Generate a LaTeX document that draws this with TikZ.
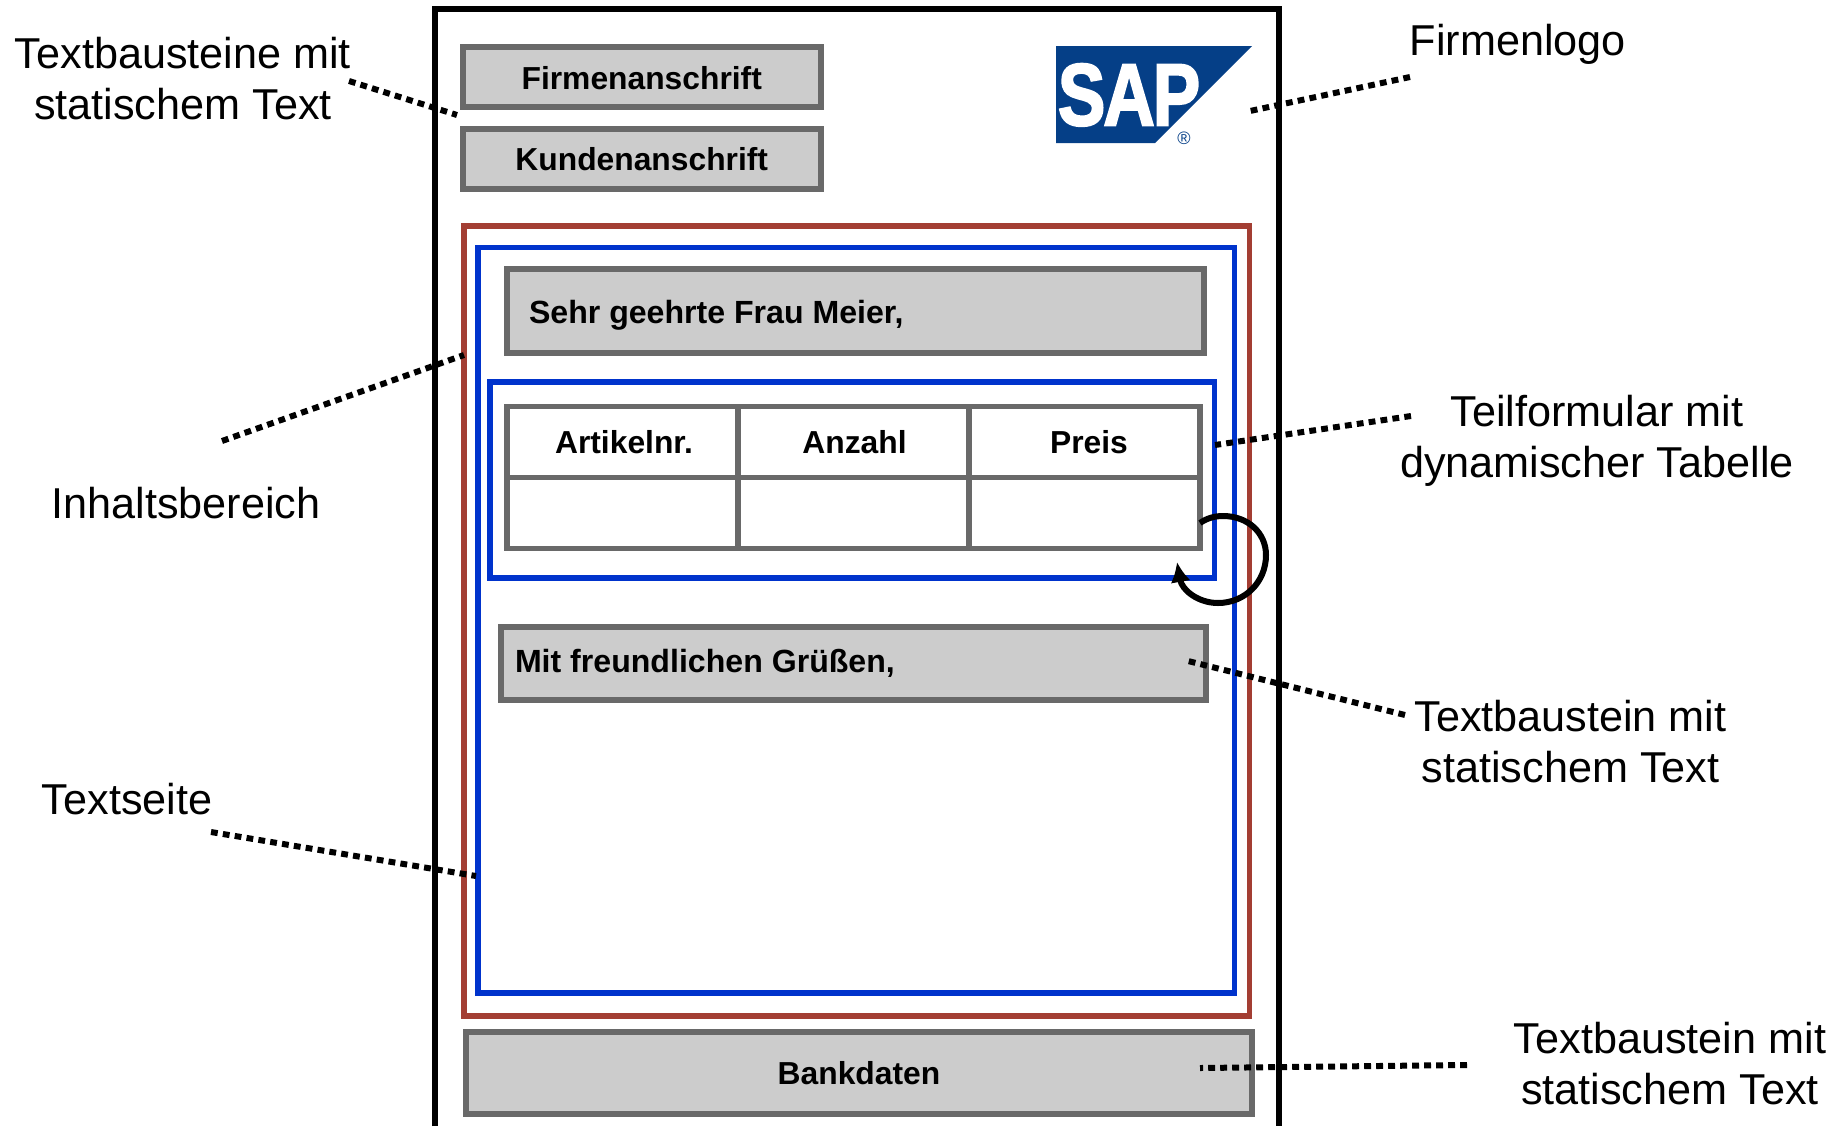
\documentclass[tikz,border=0pt]{standalone}
\usepackage{fontspec}
\setmainfont{Liberation Sans}
\newfontfamily\saplogofont[FakeBold=2.5, LetterSpace=-3]{Liberation Sans Bold}
\usetikzlibrary{calc, arrows.meta}

\definecolor{boxgray}{HTML}{696969}
\definecolor{boxfill}{HTML}{CCCCCC}
\definecolor{areablue}{HTML}{0033CC}
\definecolor{areared}{HTML}{A33E33}
\definecolor{sapblue}{HTML}{053F87}

\tikzset{
    textbox/.style={draw=boxgray, fill=boxfill, line width=3pt, inner sep=0pt,
        font=\fontsize{15.9}{19}\selectfont\bfseries},
    cell/.style={draw=boxgray, fill=white, line width=2.8pt, inner sep=0pt,
        minimum height=35.5pt, font=\fontsize{15.9}{19}\selectfont\bfseries},
    area/.style={line width=2.6pt},
    callout/.style={align=center, inner sep=0pt, font=\fontsize{21.6}{25.4}\selectfont},
    leader/.style={line width=3pt, dash pattern=on 3.4pt off 2.6pt}
}

\begin{document}
\begin{tikzpicture}[x=0.5pt, y=-0.5pt]
    \useasboundingbox (0, 0) rectangle (1848, 1126);

    % Page frame, open at the bottom
    \draw[line width=3pt] (435, 1126) -- (435, 9) -- (1278.5, 9) -- (1278.5, 1126);

    % Address blocks
    \node[textbox, minimum width=178.75pt, minimum height=30pt, text height=13.4pt, text depth=0pt] (firmenanschrift) at (641.75, 76.5) {Firmenanschrift};
    \node[textbox, minimum width=178.75pt, minimum height=30pt] (kundenanschrift) at (641.75, 158.75) {Kundenanschrift};

    % Logo
    \fill[sapblue] (1056, 46) -- (1252, 46) -- (1155, 143) -- (1056, 143) -- cycle;
    \node[white, inner sep=0pt, xscale=0.81, text depth=0pt, font=\fontsize{44}{44}\selectfont\saplogofont] (saplogo) at (1129, 94.5) {SAP};
    \node[sapblue, inner sep=0pt, font=\fontsize{9}{9}\selectfont] (sapmark) at (1184, 138) {®};

    % Content areas
    \draw[area, areared] (464, 226) rectangle (1249.5, 1016);
    \draw[area, areablue] (478, 247.5) rectangle (1234.5, 993);
    \draw[area, areablue] (490, 382) rectangle (1214.5, 578);

    % Greeting
    \node[textbox, minimum height=42pt, minimum width=348.5pt, inner xsep=11pt, text height=14pt, text depth=2pt] (anrede) at (855.5, 311) {\makebox[326.5pt][l]{\fontsize{16.05}{19}\selectfont Sehr geehrte Frau Meier,}};

    % Table, 3 x 2 cells
    \node[cell, minimum width=115.5pt] (artikel) at (622.5, 442) {\hspace{1.5pt}Artikelnr.};
    \node[cell, minimum width=115.5pt] (anzahl) at (853.5, 442) {\hspace{1pt}Anzahl};
    \node[cell, minimum width=115.5pt] (preis) at (1084.5, 442) {\hspace{4.5pt}Preis};
    \node[cell, minimum width=115.5pt] (artikelzeile) at (622.5, 513) {};
    \node[cell, minimum width=115.5pt] (anzahlzeile) at (853.5, 513) {};
    \node[cell, minimum width=115.5pt] (preiszeile) at (1084.5, 513) {};

    % Closing and bank details
    \node[textbox, minimum height=36.5pt, minimum width=352.5pt, inner xsep=7pt] (gruss) at (853.5, 663.5) {\makebox[338.5pt][l]{\fontsize{16.05}{19}\selectfont Mit freundlichen Grüßen,}};
    \node[textbox, minimum width=393pt, minimum height=41.25pt] (bankdaten) at (859, 1072.75) {Bankdaten};

    % Repeat arrow
    \coordinate (loopstart) at (1200, 523);
    \coordinate (looptop) at (1223, 516);
    \coordinate (loopright) at (1266, 555);
    \coordinate (loopbottom) at (1218, 603);
    \coordinate (loopend) at (1177, 562);
    \draw[line width=3pt, -{Latex[length=10pt, width=10pt]}] (loopstart)
        .. controls (1207, 518) and (1215, 516) .. (looptop)
        .. controls (1248, 516) and (1266, 533) .. (loopright)
        .. controls (1266, 582) and (1245, 603) .. (loopbottom)
        .. controls (1198, 603) and (1182, 590) .. (loopend);

    % Callouts
    \node[callout] (staticleft) at (183, 78.5) {Textbausteine mit\\statischem Text};
    \node[callout] (logolabel) at (1518, 44) {Firmenlogo};
    \node[callout] (inhalt) at (186, 503) {Inhaltsbereich};
    \node[callout] (teilformular) at (1597, 441) {Teilformular mit\\dynamischer Tabelle};
    \node[callout] (staticmid) at (1570.5, 741.5) {Textbaustein mit\\statischem Text};
    \node[callout] (textseite) at (127, 799) {Textseite};
    \node[callout] (staticbottom) at (1670, 1063.5) {Textbaustein mit\\statischem Text};

    % Leader ends
    \coordinate (staticleftend) at (349, 81);
    \coordinate (staticlefttip) at (457, 115);
    \coordinate (logoend) at (1410, 77);
    \coordinate (logotip) at (1250, 111);
    \coordinate (inhaltend) at (222, 441);
    \coordinate (inhalttip) at (464, 355);
    \coordinate (teilend) at (1411, 416);
    \coordinate (teiltip) at (1215, 445);
    \coordinate (staticmidend) at (1405, 715);
    \coordinate (staticmidtip) at (1188, 661);
    \coordinate (textseiteend) at (211, 832);
    \coordinate (textseitetip) at (476, 876);
    \coordinate (staticbottomend) at (1467, 1065);
    \coordinate (staticbottomtip) at (1200, 1068);

    % Dotted leaders
    \draw[leader] (staticleftend) -- (staticlefttip);
    \draw[leader] (logoend) -- (logotip);
    \draw[leader] (inhaltend) -- (inhalttip);
    \draw[leader] (teilend) -- (teiltip);
    \draw[leader] (staticmidend) -- (staticmidtip);
    \draw[leader] (textseiteend) -- (textseitetip);
    \draw[leader] (staticbottomend) -- (staticbottomtip);
\end{tikzpicture}
\end{document}
